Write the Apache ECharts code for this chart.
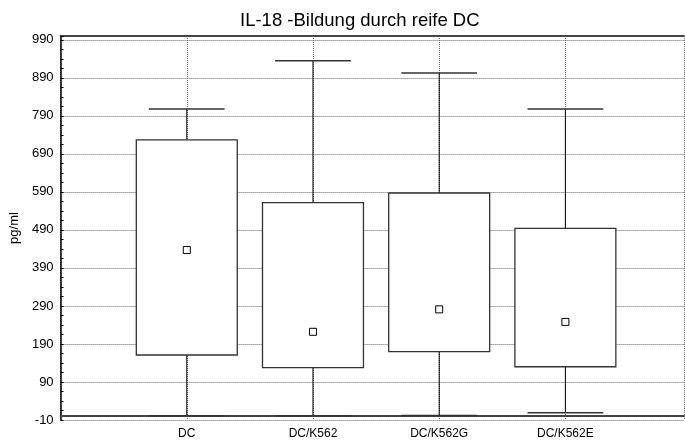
<!DOCTYPE html>
<html>
<head>
<meta charset="utf-8">
<script src="https://cdn.jsdelivr.net/npm/echarts@6/dist/echarts.min.js"></script>
<style>
  html, body { margin: 0; padding: 0; background: #fff; }
  #chart { width: 685px; height: 443px; }
</style>
</head>
<body>
<div id="chart"></div>
<script>
// Kategorien und Werte
const categories = ['DC', 'DC/K562', 'DC/K562G', 'DC/K562E']
const whiskerMin = [1, 1, 2, 9]
const boxLow = [161, 128, 170, 130]
const medians = [437, 222, 281, 248]
const boxHigh = [727, 562, 587, 494]
const whiskerMax = [808, 935, 903, 808]

const chart = echarts.init(document.getElementById('chart'))

// x = Position der Kategorie (1..4)
const data = categories.map((c, i) => [i + 1, whiskerMin[i], boxLow[i], medians[i], boxHigh[i], whiskerMax[i]])

function renderBox(params, api) {
  const x = api.value(0)
  const band = api.size([1, 0])[0]
  const boxW = band * 0.8
  const capW = band * 0.6
  const pMin = api.coord([x, api.value(1)])
  const pLow = api.coord([x, api.value(2)])
  const pMed = api.coord([x, api.value(3)])
  const pHigh = api.coord([x, api.value(4)])
  const pMax = api.coord([x, api.value(5)])
  const cx = pMin[0]
  return {
    type: 'group',
    children: [
      { type: 'line', shape: { x1: cx, y1: pMin[1], x2: cx, y2: pLow[1] }, style: { stroke: '#000', lineWidth: 1 } },
      { type: 'line', shape: { x1: cx, y1: pHigh[1], x2: cx, y2: pMax[1] }, style: { stroke: '#000', lineWidth: 1 } },
      { type: 'line', shape: { x1: cx - capW / 2, y1: pMin[1], x2: cx + capW / 2, y2: pMin[1] }, style: { stroke: '#333', lineWidth: 1.5 } },
      { type: 'line', shape: { x1: cx - capW / 2, y1: pMax[1], x2: cx + capW / 2, y2: pMax[1] }, style: { stroke: '#333', lineWidth: 1.5 } },
      { type: 'rect', shape: { x: cx - boxW / 2, y: pHigh[1], width: boxW, height: pLow[1] - pHigh[1] }, style: { fill: '#fff', stroke: '#333', lineWidth: 1.3 } },
      { type: 'rect', shape: { x: cx - 3.5, y: pMed[1] - 3.5, width: 7, height: 7 }, style: { fill: '#fff', stroke: '#000', lineWidth: 1 } }
    ]
  }
}

const dotted = { type: 'dotted', color: '#666', width: 1 }

const option = {
  animation: false,
  title: {
    text: 'IL-18 -Bildung durch reife DC',
    left: 235,
    top: 6,
    textStyle: { fontFamily: 'Liberation Sans', fontSize: 18.5, fontWeight: 'normal', color: '#000' }
  },
  grid: { left: 58, top: 36, right: 1, bottom: 23 },
  xAxis: [{
    type: 'value',
    min: 0,
    max: 4.94,
    interval: 1,
    axisLine: { lineStyle: { color: '#444', width: 2 } },
    axisTick: { show: false },
    splitLine: { show: true, lineStyle: dotted },
    axisLabel: {
      color: '#000',
      fontFamily: 'Liberation Sans',
      fontSize: 12,
      margin: 8,
      showMaxLabel: false,
      formatter: v => categories[v - 1] || ''
    }
  }, {
    type: 'value',
    position: 'top',
    min: 0,
    max: 4.94,
    axisLine: { show: true, onZero: false, lineStyle: { color: '#444', width: 2 } },
    axisTick: { show: false },
    axisLabel: { show: false },
    splitLine: { show: false }
  }],
  yAxis: {
    type: 'value',
    name: 'pg/ml',
    nameLocation: 'middle',
    nameGap: 37,
    nameTextStyle: { color: '#000', fontFamily: 'Liberation Sans', fontSize: 13 },
    min: -10,
    max: 1000,
    interval: 100,
    axisLine: { show: true, lineStyle: { color: '#000', width: 1.5 } },
    axisTick: { show: true, inside: true, length: 3, lineStyle: { color: '#000' } },
    minorTick: { show: true, splitNumber: 4, length: 3, lineStyle: { color: '#000' } },
    splitLine: { show: true, lineStyle: dotted },
    axisLabel: {
      color: '#000',
      fontFamily: 'Liberation Sans',
      fontSize: 13,
      margin: 7,
      showMaxLabel: false
    }
  },
  series: [{
    type: 'custom',
    renderItem: renderBox,
    data: data,
    encode: { x: 0, y: [1, 2, 3, 4, 5] }
  }]
}

chart.setOption(option)
</script>
</body>
</html>
